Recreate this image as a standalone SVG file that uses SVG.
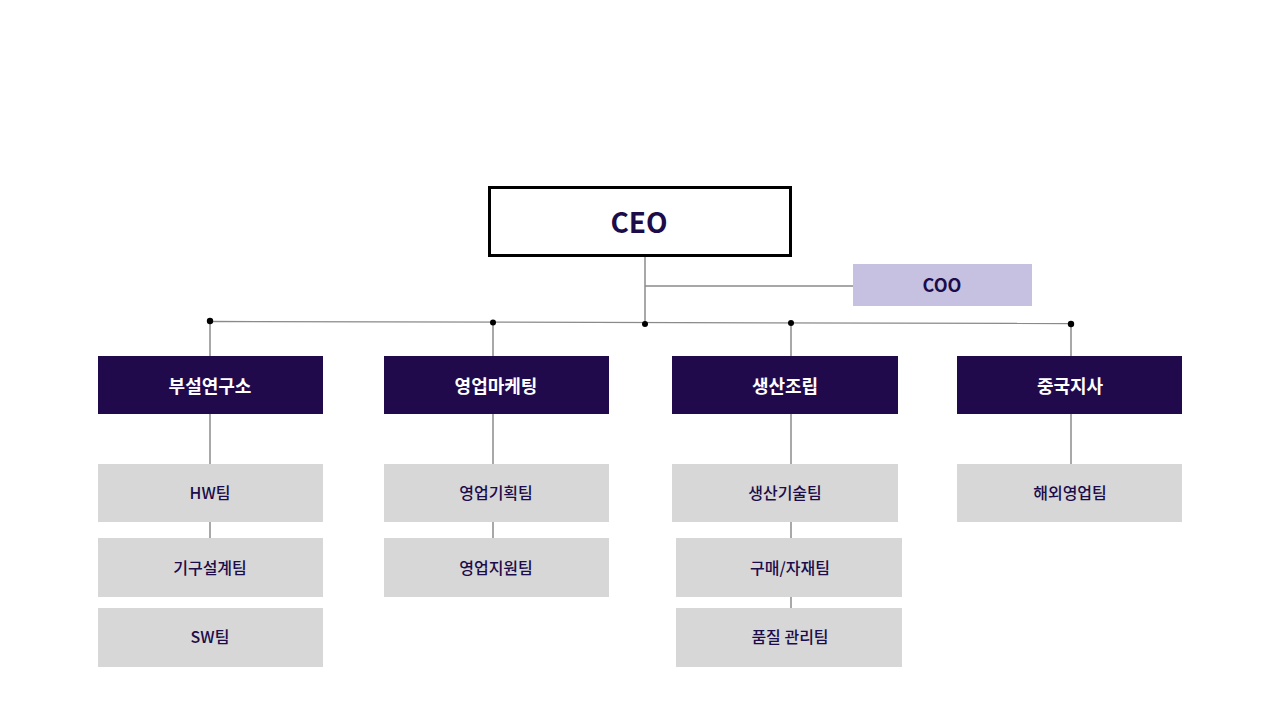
<svg xmlns="http://www.w3.org/2000/svg" width="1280" height="720" viewBox="0 0 1280 720">
<style>
.ln{stroke:#8a8a8a;stroke-width:1.3;fill:none}
.vl{stroke:#6e6e6e;stroke-width:1.2;fill:none}
.dot{fill:#000}
.dept rect{fill:#200a4c}
.dept text{fill:#ffffff;font-family:"Noto Sans CJK KR","Noto Sans",sans-serif;font-weight:700;font-size:18px;text-anchor:middle}
.team rect{fill:#d7d7d7}
.team text{fill:#1c0c4a;font-family:"Noto Sans CJK KR","Noto Sans",sans-serif;font-weight:500;font-size:16px;text-anchor:middle}
</style>
<rect width="1280" height="720" fill="#ffffff"/>
<g id="connectors">
<line class="vl" x1="645" y1="256" x2="645" y2="323"/>
<line class="ln" x1="645" y1="286" x2="853" y2="286"/>
<line class="ln" x1="210" y1="321.5" x2="1071" y2="323.5"/>
<line class="vl" x1="210" y1="321" x2="210" y2="356"/>
<line class="vl" x1="493" y1="322" x2="493" y2="356"/>
<line class="vl" x1="791" y1="323" x2="791" y2="356"/>
<line class="vl" x1="1071" y1="324" x2="1071" y2="356"/>
<line class="vl" x1="210" y1="413" x2="210" y2="464"/>
<line class="vl" x1="493" y1="413" x2="493" y2="464"/>
<line class="vl" x1="791" y1="413" x2="791" y2="464"/>
<line class="vl" x1="1071" y1="413" x2="1071" y2="464"/>
<line class="vl" x1="210" y1="521" x2="210" y2="538"/>
<line class="vl" x1="493" y1="521" x2="493" y2="538"/>
<line class="vl" x1="791" y1="521" x2="791" y2="538"/>
<line class="vl" x1="791" y1="596" x2="791" y2="608"/>
<circle class="dot" cx="210" cy="321" r="3.2"/>
<circle class="dot" cx="493" cy="322.5" r="3"/>
<circle class="dot" cx="645" cy="324" r="3"/>
<circle class="dot" cx="791" cy="323" r="3"/>
<circle class="dot" cx="1071" cy="324" r="3.2"/>
</g>
<g id="ceo">
<rect x="489.5" y="187.5" width="301" height="68" fill="#ffffff" stroke="#000" stroke-width="3"/>
<text x="639" y="233" fill="#1c0c4a" font-family="'Noto Sans CJK KR','Noto Sans',sans-serif" font-weight="700" font-size="28" text-anchor="middle">CEO</text>
</g>
<g id="coo">
<rect x="853" y="264" width="179" height="42" fill="#c6c1e1"/>
<text x="942" y="292" fill="#1c0c4a" font-family="'Noto Sans CJK KR','Noto Sans',sans-serif" font-weight="700" font-size="18" text-anchor="middle">COO</text>
</g>
<g id="dept-rnd" class="dept"><rect x="98" y="356" width="225" height="58"/><text x="210" y="393">부설연구소</text></g>
<g id="dept-sales" class="dept"><rect x="384" y="356" width="225" height="58"/><text x="496" y="393">영업마케팅</text></g>
<g id="dept-prod" class="dept"><rect x="672" y="356" width="226" height="58"/><text x="785" y="393">생산조립</text></g>
<g id="dept-china" class="dept"><rect x="957" y="356" width="225" height="58"/><text x="1070" y="393">중국지사</text></g>
<g id="team-hw" class="team"><rect x="98" y="464" width="225" height="58"/><text x="210" y="499">HW팀</text></g>
<g id="team-mech" class="team"><rect x="98" y="538" width="225" height="59"/><text x="210" y="574">기구설계팀</text></g>
<g id="team-sw" class="team"><rect x="98" y="608" width="225" height="59"/><text x="210" y="643">SW팀</text></g>
<g id="team-salesplan" class="team"><rect x="384" y="464" width="225" height="58"/><text x="496" y="499">영업기획팀</text></g>
<g id="team-salessupport" class="team"><rect x="384" y="538" width="225" height="59"/><text x="496" y="574">영업지원팀</text></g>
<g id="team-prodtech" class="team"><rect x="672" y="464" width="226" height="58"/><text x="785" y="499">생산기술팀</text></g>
<g id="team-purchase" class="team"><rect x="676" y="538" width="226" height="59"/><text x="790" y="574">구매/자재팀</text></g>
<g id="team-qa" class="team"><rect x="676" y="608" width="226" height="59"/><text x="790" y="643">품질 관리팀</text></g>
<g id="team-overseas" class="team"><rect x="957" y="464" width="225" height="58"/><text x="1070" y="499">해외영업팀</text></g>
</svg>
